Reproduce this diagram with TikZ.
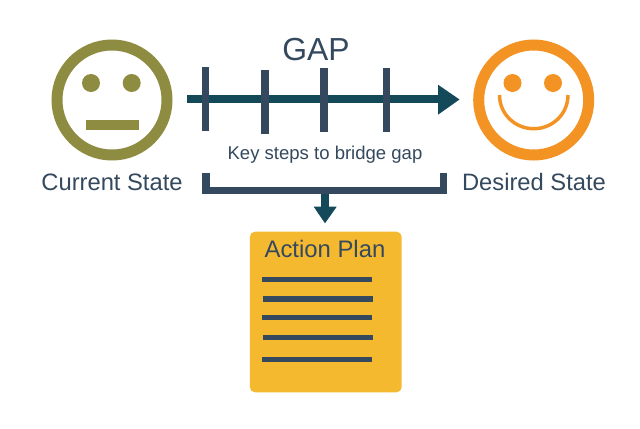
\documentclass[tikz,border=0pt]{standalone}
\usepackage{fontspec}
\setmainfont{Liberation Sans}
\definecolor{slatec}{HTML}{34495E}
\definecolor{tealc}{HTML}{14495A}
\definecolor{olivec}{HTML}{8E8C40}
\definecolor{orangec}{HTML}{F39323}
\definecolor{yellowc}{HTML}{F5B930}
\tikzset{
  x=0.75pt,y=-0.75pt,
  ring/.style={draw=#1,line width=8.25pt,circle,minimum size=82.5pt,inner sep=0pt},
  eye/.style={fill=#1,draw=none,circle,minimum size=13.5pt,inner sep=0pt},
  tick/.style={draw=slatec,line width=5.7pt},
  shaft/.style={draw=tealc,line width=6.2pt},
  listline/.style={draw=slatec,line width=4pt},
  bracket/.style={draw=slatec,line width=5.6pt,miter limit=10},
  label/.style={text=slatec,inner sep=0pt,anchor=center},
  headfill/.style={fill=tealc,draw=none},
}
\begin{document}
\begin{tikzpicture}
\useasboundingbox (0,0) rectangle (640,429);
\fill[white] (0,0) rectangle (640,429);
% faces
\node[ring=olivec] (curr) at (112,100) {};
\node[eye=olivec] (ce1) at (91,83) {};
\node[eye=olivec] (ce2) at (131.7,83) {};
\fill[olivec] (86.3,120) rectangle (138.7,130.3);
\node[ring=orangec] (des) at (533.7,100) {};
\node[eye=orangec] (de1) at (512.5,83) {};
\node[eye=orangec] (de2) at (553,83) {};
\draw[orangec,line width=2.6pt] (499.5,95) .. controls (499.5,114) and (515,128.7) .. (533.7,128.7) .. controls (552.5,128.7) and (568,114) .. (568,95);
% arrow
\coordinate (as) at (187.3,99);
\coordinate (ae) at (440,99);
\draw[shaft] (as) -- (ae);
\fill[headfill] (438,84.7) -- (459.5,99.5) -- (438,114.7) -- cycle;
% ticks
\draw[tick] (205.5,67) -- (205.5,130.7);
\draw[tick] (264.8,70) -- (264.8,134);
\draw[tick] (324.2,68) -- (324.2,131.7);
\draw[tick] (386.5,68) -- (386.5,131.7);
% texts
\node[label,font=\fontsize{23.9pt}{26pt}\selectfont] (gap) at (316,50) {GAP};
\node[label,font=\fontsize{13.9pt}{16pt}\selectfont] (key) at (325,155) {Key steps to bridge gap};
\node[label,font=\fontsize{17.8pt}{21pt}\selectfont] (cs) at (112,182) {Current State};
\node[label,font=\fontsize{17.8pt}{21pt}\selectfont] (ds) at (534,182) {Desired State};
% bracket
\coordinate (bl) at (206,172.7);
\coordinate (br) at (443.5,172.7);
\draw[bracket] (bl) -- (206,190.7) -- (443.5,190.7) -- (br);
% down arrow
\coordinate (ds1) at (325,194);
\coordinate (ds2) at (325,208);
\draw[shaft,line width=5.4pt] (ds1) -- (ds2);
\fill[headfill] (313.7,206.7) -- (336.7,206.7) -- (325,223.3) -- cycle;
% box
\node[fill=yellowc,draw=none,rounded corners=3.75pt,minimum width=113.8pt,minimum height=120.4pt,inner sep=0pt] (plan) at (325.8,312) {};
\node[label,font=\fontsize{17.9pt}{21pt}\selectfont] (pt) at (325,249) {Action Plan};
\draw[listline] (262.3,279.3) -- (372.3,279.3);
\draw[listline] (263.3,299) -- (373.3,299);
\draw[listline] (262.3,317.7) -- (372.3,317.7);
\draw[listline] (263.3,337.7) -- (373.3,337.7);
\draw[listline] (262.3,359.3) -- (372.3,359.3);
\end{tikzpicture}
\end{document}
